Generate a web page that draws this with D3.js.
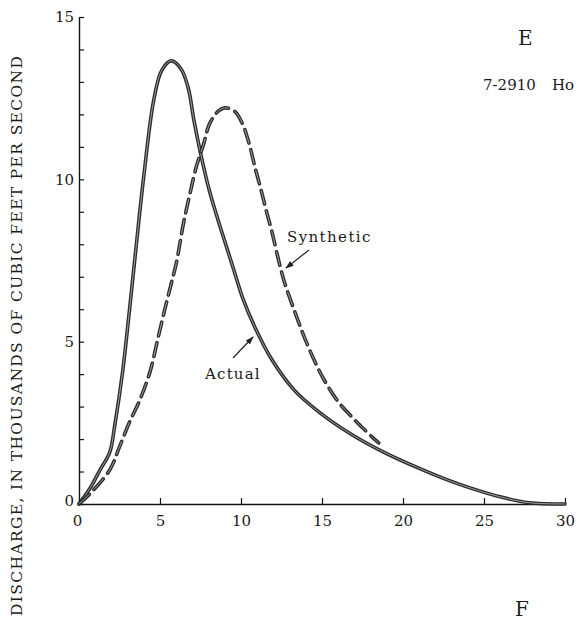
<!DOCTYPE html>
<html>
<head>
<meta charset="utf-8">
<script src="https://cdn.jsdelivr.net/npm/d3@7"></script>
<style>
  body { margin: 0; background: #fff; }
  text { font-family: "DejaVu Serif", "Liberation Serif", serif; fill: #1a1a1a; }
</style>
</head>
<body>
<div id="chart"></div>
<script>
// Hydrograph values (time units, thousands of cfs)
const actualTime = [0, 0.7, 1.3, 1.9, 2.2, 2.7, 3.1, 3.5, 4.0, 4.6, 5.1, 5.7, 6.3, 6.75, 7.1, 7.55, 8.05, 8.8, 9.5, 10.1, 10.9, 11.9, 13.3, 14.9, 16.8, 18.8, 20.9, 22.7, 24.0, 26.0, 27.8, 30.0];
const actualFlow = [0, 0.5, 1.05, 1.6, 2.4, 4.1, 5.9, 7.8, 10.1, 12.4, 13.35, 13.65, 13.4, 12.8, 11.8, 10.7, 9.65, 8.4, 7.3, 6.35, 5.4, 4.45, 3.5, 2.8, 2.15, 1.6, 1.12, 0.75, 0.52, 0.22, 0.04, 0];

const synthTime = [0, 0.7, 1.9, 2.5, 3.1, 3.75, 4.4, 4.85, 5.3, 5.7, 6.0, 6.45, 6.8, 7.25, 7.7, 8.05, 8.6, 9.0, 9.6, 10.1, 10.5, 10.9, 11.25, 11.55, 11.9, 12.35, 12.7, 13.3, 13.9, 14.5, 15.1, 16.0, 17.1, 18.1, 18.5];
const synthFlow = [0, 0.33, 1.05, 1.76, 2.5, 3.2, 4.1, 5.05, 6.0, 6.8, 7.4, 8.65, 9.45, 10.4, 11.1, 11.7, 12.1, 12.2, 12.1, 11.7, 11.1, 10.3, 9.65, 9.05, 8.4, 7.45, 6.8, 5.95, 5.15, 4.45, 3.85, 3.15, 2.55, 2.06, 1.88];

const xTickValues = [0, 5, 10, 15, 20, 25, 30];
const yTickValues = d3.range(0, 16, 1);
const yAxisTitle = "DISCHARGE,  IN THOUSANDS OF CUBIC FEET PER SECOND";

const width = 576, height = 626;

const svg = d3.select("#chart")
    .append("svg")
    .attr("width", width)
    .attr("height", height);

// arrow marker for the labels
svg.append("defs").append("marker")
    .attr("id", "arrow")
    .attr("viewBox", "0 0 10 10")
    .attr("refX", 9).attr("refY", 5)
    .attr("markerWidth", 7).attr("markerHeight", 7)
    .attr("orient", "auto")
    .append("path")
    .attr("d", "M0,1.5 L10,5 L0,8.5 Z")
    .attr("fill", "#222");

const x = d3.scaleLinear().domain([0, 30]).range([79, 565]);
const y = d3.scaleLinear().domain([0, 15]).range([504, 17]);

// axes
const xAxis = d3.axisBottom(x)
    .tickValues(xTickValues)
    .tickSize(-6)
    .tickSizeOuter(0)
    .tickPadding(11);

const yAxis = d3.axisLeft(y)
    .tickValues(yTickValues)
    .tickSize(-5)
    .tickSizeOuter(0)
    .tickPadding(5)
    .tickFormat(d => d % 5 === 0 ? d : "");

const gx = svg.append("g")
    .attr("transform", `translate(0,${y(0)})`)
    .call(xAxis);

const gy = svg.append("g")
    .attr("transform", `translate(${x(0)},0)`)
    .call(yAxis);

[gx, gy].forEach(g => {
    g.select(".domain").attr("stroke", "#111").attr("stroke-width", 1.4);
    g.selectAll(".tick line").attr("stroke", "#111").attr("stroke-width", 1.2);
    g.selectAll(".tick text")
        .style("font-family", "'DejaVu Serif', serif")
        .style("font-size", "15px")
        .attr("fill", "#1a1a1a");
});
// y "0" sits a little below the origin
gy.selectAll(".tick text").filter(d => d === 0).attr("dy", "0.1em");
gx.selectAll(".tick text").filter(d => d === 0).attr("dx", "-2");

// y axis title
svg.append("text")
    .attr("transform", `translate(22,${336}) rotate(-90)`)
    .attr("text-anchor", "middle")
    .attr("textLength", 560)
    .attr("lengthAdjust", "spacing")
    .style("font-size", "15.5px")
    .text(yAxisTitle);

// curves
const line = d3.line()
    .x(d => x(d[0]))
    .y(d => y(d[1]))
    .curve(d3.curveCatmullRom.alpha(0.5));

const actual = d3.zip(actualTime, actualFlow);
const synth = d3.zip(synthTime, synthFlow);

const curves = svg.append("g").attr("fill", "none").attr("stroke-linecap", "round");

curves.append("path")
    .attr("d", line(actual))
    .attr("stroke", "#2b2b2b")
    .attr("stroke-width", 3.6);
curves.append("path")
    .attr("d", line(actual))
    .attr("stroke", "#a0a0a0")
    .attr("stroke-width", 1);

curves.append("path")
    .attr("d", line(synth))
    .attr("stroke", "#2b2b2b")
    .attr("stroke-width", 3.6)
    .attr("stroke-dasharray", "14 7");
curves.append("path")
    .attr("d", line(synth))
    .attr("stroke", "#a0a0a0")
    .attr("stroke-width", 1)
    .attr("stroke-dasharray", "14 7");

// labels with arrows
svg.append("text")
    .attr("x", 287).attr("y", 242)
    .style("font-size", "15px")
    .style("letter-spacing", "1.4px")
    .text("Synthetic");
svg.append("line")
    .attr("x1", 309).attr("y1", 250)
    .attr("x2", 286).attr("y2", 268)
    .attr("stroke", "#222").attr("stroke-width", 1.2)
    .attr("marker-end", "url(#arrow)");

svg.append("text")
    .attr("x", 205).attr("y", 379)
    .style("font-size", "15px")
    .style("letter-spacing", "1.2px")
    .text("Actual");
svg.append("line")
    .attr("x1", 233).attr("y1", 358)
    .attr("x2", 253).attr("y2", 337)
    .attr("stroke", "#222").attr("stroke-width", 1.2)
    .attr("marker-end", "url(#arrow)");

// page marks
svg.append("text")
    .attr("x", 518).attr("y", 45)
    .style("font-size", "20px")
    .text("E");
svg.append("text")
    .attr("x", 483).attr("y", 90)
    .style("font-size", "15px")
    .text("7-2910");
svg.append("text")
    .attr("x", 552).attr("y", 90)
    .style("font-size", "15px")
    .text("Ho");
svg.append("text")
    .attr("x", 515).attr("y", 616)
    .style("font-size", "20px")
    .text("F");
</script>
</body>
</html>
